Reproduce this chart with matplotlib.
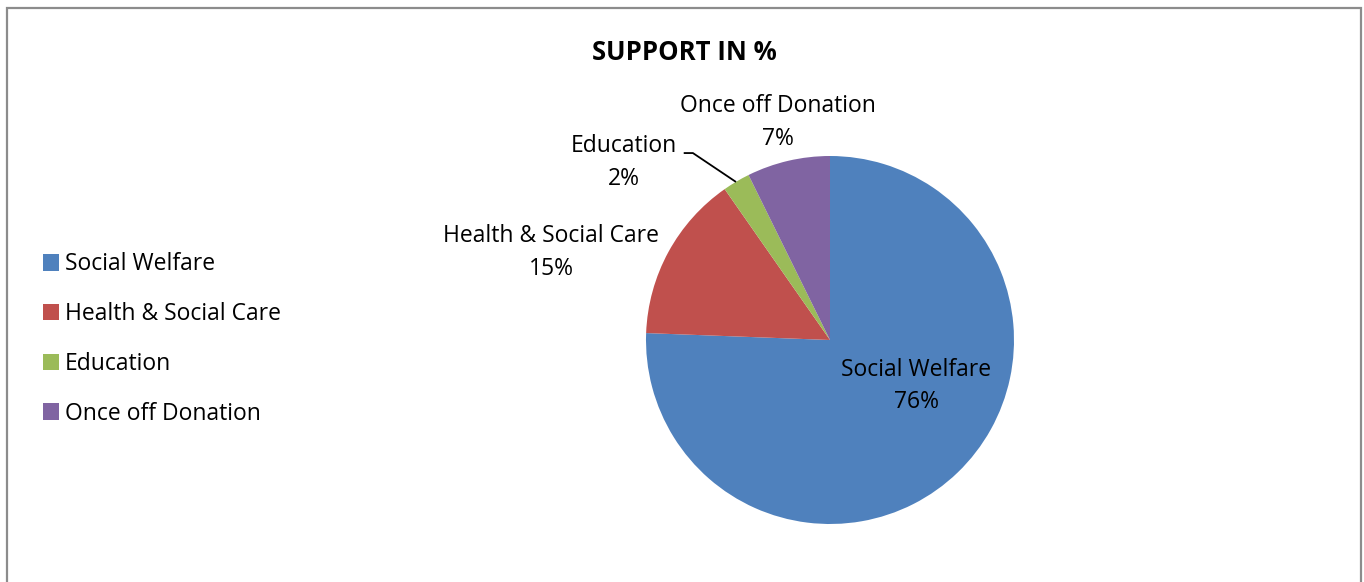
import matplotlib.pyplot as plt
from matplotlib.patches import Rectangle

plt.rcParams['font.family'] = ['Open Sans', 'DejaVu Sans']

categories = ['Social Welfare', 'Health & Social Care', 'Education', 'Once off Donation']
shares = [75.6, 14.7, 2.4, 7.3]
colors = ['#4F81BD', '#C0504D', '#9BBB59', '#8064A2']

W, H = 1364, 582
fig = plt.figure(figsize=(W / 100, H / 100), dpi=100)

# chart frame (bottom edge falls outside the picture)
fig.add_artist(Rectangle((7 / W, -0.05), (1361 - 7) / W, (H - 8) / H + 0.05,
                         transform=fig.transFigure, fill=False,
                         edgecolor='#8c8c8c', lw=1.6))

fig.text(684 / W, 1 - 52 / H, 'SUPPORT IN %', ha='center', va='center',
         fontsize=18.5, fontweight='bold')

# pie centred at (830, 340) px, radius 184 px
cx, cy, r = 830, 340, 184
ax = fig.add_axes([(cx - r) / W, (H - cy - r) / H, 2 * r / W, 2 * r / H])
wedges, _ = ax.pie(shares, colors=colors, startangle=90, counterclock=False,
                   radius=1, wedgeprops=dict(linewidth=0))
ax.set_xlim(-1, 1)
ax.set_ylim(-1, 1)
ax.set_aspect('equal')
ax.axis('off')

label_pos = [(0.47, -0.25), (-1.515, 0.475), (-1.12, 0.965), (-0.285, 1.183)]
for name, val, (lx, ly) in zip(categories, shares, label_pos):
    ax.text(lx, ly, f'{name}\n{round(val)}%', ha='center', va='center',
            fontsize=16.5, linespacing=1.5, clip_on=False)

# leader line for Education
ax.plot([-0.795, -0.745, -0.511], [1.016, 1.016, 0.859], color='black', lw=1.3,
        clip_on=False, solid_capstyle='butt')

fig.legend(wedges, categories, loc='center left',
           bbox_to_anchor=(43 / W, 1 - 339 / H), frameon=False,
           fontsize=16.5, handlelength=0.7, handleheight=0.7,
           handletextpad=0.25, labelspacing=1.12, borderpad=0, borderaxespad=0)

fig.savefig('out.png', dpi=100)
